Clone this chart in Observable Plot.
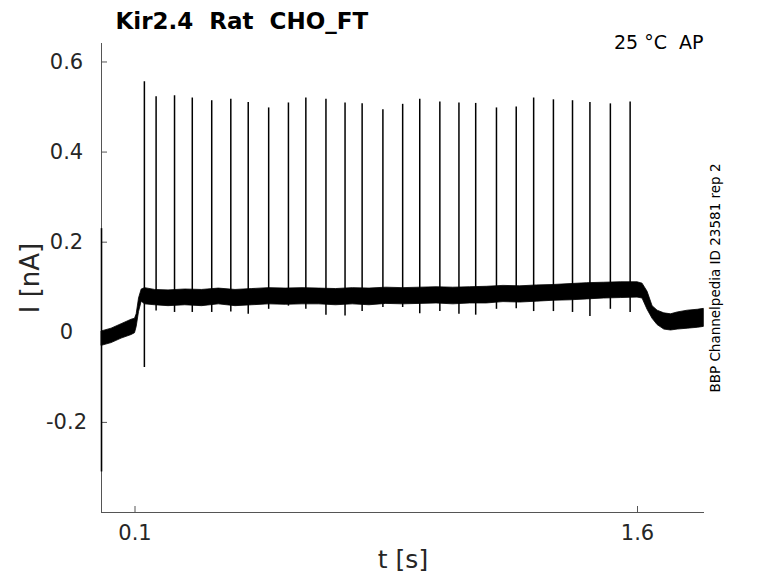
<!DOCTYPE html>
<html>
<head>
<meta charset="utf-8">
<script src="https://cdn.jsdelivr.net/npm/d3@7"></script>
<script src="https://cdn.jsdelivr.net/npm/@observablehq/plot@0.6"></script>
<style>
  html, body { margin: 0; padding: 0; background: #fff; }
  #chart svg { display: block; }
  #chart svg text { white-space: pre; }
</style>
</head>
<body>
<div id="chart"></div>
<script>
// ---- data ----
const titleText = "Kir2.4  Rat  CHO_FT";
const conditionText = "25 °C  AP";
const sourceText = "BBP Channelpedia ID 23581 rep 2";
const xLabel = "t [s]";
const yLabel = "I [nA]";

const xTicks = [0.1, 1.6];
const yTicks = [-0.2, 0, 0.2, 0.4, 0.6];

// action-potential spikes: time, peak and post-spike trough (nA)
const spikeT = [0.128, 0.163, 0.218, 0.271, 0.329, 0.386, 0.438, 0.499, 0.558, 0.610,
                0.670, 0.727, 0.778, 0.840, 0.899, 0.950, 1.010, 1.067, 1.117, 1.179,
                1.238, 1.290, 1.349, 1.406, 1.458, 1.519, 1.578];
const spikePeak = [0.556, 0.523, 0.525, 0.520, 0.514, 0.517, 0.510, 0.498, 0.509, 0.520,
                   0.517, 0.509, 0.507, 0.494, 0.506, 0.517, 0.511, 0.509, 0.508, 0.498,
                   0.500, 0.520, 0.516, 0.514, 0.510, 0.507, 0.511];
const spikeTrough = [-0.078, 0.047, 0.044, 0.044, 0.044, 0.045, 0.040, 0.051, 0.058, 0.051,
                     0.038, 0.036, 0.046, 0.055, 0.055, 0.041, 0.046, 0.040, 0.038, 0.051,
                     0.052, 0.046, 0.046, 0.044, 0.035, 0.051, 0.044];

// capacitive transient at the start of the sweep
const transientT = [0.0];
const transientLo = [-0.31];
const transientHi = [0.23];

// noisy baseline current: envelope (lower / upper) over time
const baseT  = [0.001, 0.03, 0.06, 0.09, 0.1, 0.105, 0.112, 0.12, 0.13, 0.16, 0.2, 0.25, 0.3, 0.35,
                0.4, 0.45, 0.5, 0.55, 0.6, 0.65, 0.7, 0.75, 0.8, 0.85, 0.9, 0.95, 1.0, 1.05,
                1.1, 1.15, 1.2, 1.25, 1.3, 1.35, 1.4, 1.45, 1.5, 1.55, 1.6, 1.615, 1.63, 1.645,
                1.66, 1.68, 1.7, 1.72, 1.75, 1.78, 1.798];
const baseLo = [-0.030, -0.024, -0.014, -0.006, -0.002, 0.012, 0.045, 0.068, 0.062, 0.060, 0.058, 0.060, 0.058, 0.062,
                0.058, 0.060, 0.062, 0.061, 0.062, 0.062, 0.060, 0.062, 0.060, 0.063, 0.062, 0.063, 0.064, 0.062,
                0.064, 0.064, 0.067, 0.066, 0.068, 0.070, 0.071, 0.073, 0.075, 0.076, 0.077, 0.075, 0.050, 0.030,
                0.016, 0.006, 0.004, 0.006, 0.008, 0.010, 0.012];
const baseHi = [0.002, 0.008, 0.018, 0.028, 0.030, 0.040, 0.075, 0.095, 0.098, 0.094, 0.093, 0.095, 0.094, 0.097,
                0.094, 0.096, 0.098, 0.097, 0.098, 0.097, 0.096, 0.098, 0.097, 0.099, 0.098, 0.099, 0.100, 0.099,
                0.100, 0.101, 0.103, 0.102, 0.104, 0.105, 0.107, 0.109, 0.110, 0.111, 0.111, 0.108, 0.090, 0.058,
                0.048, 0.042, 0.040, 0.044, 0.048, 0.050, 0.052];

// ---- tables built from the arrays ----
const spikes = spikeT.map((t, i) => ({t, peak: spikePeak[i], trough: spikeTrough[i]}));
const band = baseT.map((t, i) => ({t, lo: baseLo[i], hi: baseHi[i]}));
const transient = transientT.map((t, i) => ({t, lo: transientLo[i], hi: transientHi[i]}));

const xDomain = [0, 1.8];
const yDomain = [-0.4, 0.641];
const W = 778, H = 583;
const mL = 101, mR = 74, mT = 43, mB = 71;
const ink = "#262626";
const axisColor = "#555";
const font = "DejaVu Sans, sans-serif";

// inward tick lengths in data units (6 px)
const tickLenX = 6 * (xDomain[1] - xDomain[0]) / (W - mL - mR);
const tickLenY = 6 * (yDomain[1] - yDomain[0]) / (H - mT - mB);

const chart = Plot.plot({
  width: W,
  height: H,
  marginLeft: mL,
  marginRight: mR,
  marginTop: mT,
  marginBottom: mB,
  style: {fontFamily: font, color: ink, background: "white", overflow: "visible"},
  x: {domain: xDomain},
  y: {domain: yDomain},
  marks: [
    // axis lines
    Plot.ruleX([xDomain[0]], {stroke: axisColor, strokeWidth: 1}),
    Plot.ruleY([yDomain[0]], {stroke: axisColor, strokeWidth: 1}),
    // inward ticks
    Plot.ruleX(xTicks, {y1: yDomain[0], y2: yDomain[0] + tickLenY, stroke: axisColor}),
    Plot.ruleY(yTicks, {x1: xDomain[0], x2: xDomain[0] + tickLenX, stroke: axisColor}),
    // tick labels
    Plot.axisX({ticks: xTicks, tickSize: 0, tickPadding: 13, fontSize: 21, tickFormat: d => String(d), label: null, color: ink}),
    Plot.axisY({ticks: yTicks, tickSize: 0, tickPadding: 35, textAnchor: "middle", fontSize: 21, tickFormat: d => String(d), label: null, color: ink}),
    // noisy baseline current
    Plot.areaY(band, {x: "t", y1: "lo", y2: "hi", fill: "black", stroke: "black", strokeWidth: 0.8}),
    // capacitive transient
    Plot.ruleX(transient, {x: "t", y1: "lo", y2: "hi", stroke: "black", strokeWidth: 1.6}),
    // spikes
    Plot.ruleX(spikes, {x: "t", y1: "trough", y2: "peak", stroke: "black", strokeWidth: 1.5}),
    // title and annotations
    Plot.text([titleText], {frameAnchor: "top-left", textAnchor: "start", dx: 14, dy: -31, fontSize: 23, fontWeight: "bold", fill: "black"}),
    Plot.text([conditionText], {frameAnchor: "top-right", textAnchor: "end", dx: -1, dy: -8, fontSize: 19, fill: "black"}),
    Plot.text([sourceText], {frameAnchor: "right", textAnchor: "middle", rotate: -90, dx: 11, fontSize: 13.5, fill: "black"}),
    Plot.text([xLabel], {frameAnchor: "bottom", textAnchor: "middle", dy: 55, fontSize: 25, fill: ink}),
    Plot.text([yLabel], {frameAnchor: "left", textAnchor: "middle", rotate: -90, dx: -71, fontSize: 26, fill: ink})
  ]
});
document.getElementById("chart").appendChild(chart);
</script>
</body>
</html>
